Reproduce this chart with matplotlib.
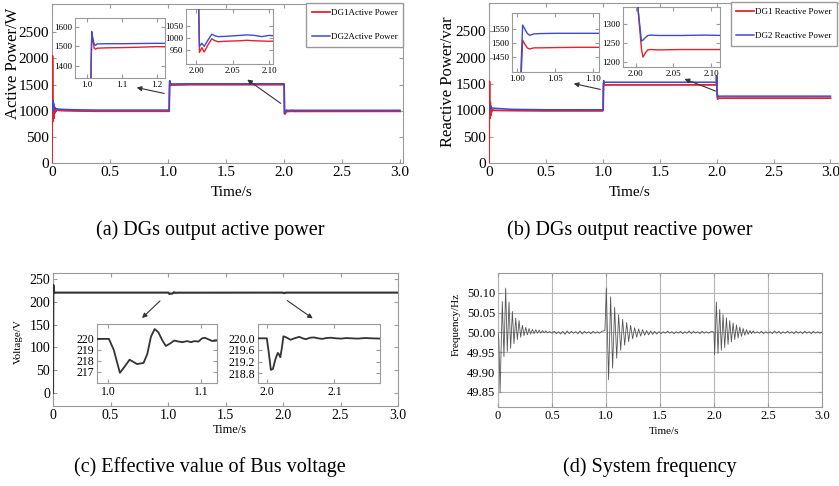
import numpy as np
import matplotlib.pyplot as plt
from matplotlib.patches import FancyArrowPatch

plt.rcParams['font.family'] = 'Liberation Serif'

# (a) Wirkleistung der DGs
t_a = [0.0, 0.004, 0.006, 0.009, 0.012, 0.015, 0.018, 0.021, 0.025, 0.030, 0.040, 0.060, 0.100, 0.200, 0.400,
       0.999, 1.010, 1.013, 1.015, 1.018, 1.022, 1.026, 1.030, 1.060, 1.100, 1.150, 1.200, 1.230, 1.999, 2.001,
       2.0045, 2.0078, 2.011, 2.016, 2.0214, 2.026, 2.030, 2.040, 2.050, 2.060, 2.070, 2.080, 2.090, 2.100, 2.110, 3.0]
p_dg1 = [0, 2050, 1400, 800, 1150, 850, 1100, 940, 1060, 980, 1015, 1005, 1000, 995, 990,
         990, 990, 1400, 1565, 1530, 1490, 1485, 1490, 1492, 1493, 1495, 1498, 1497, 1497, 1497,
         940, 960, 942, 970, 996, 988, 984, 986, 987, 988, 990, 988, 987, 986, 987, 988]
p_dg2 = [950, 1000, 1200, 1050, 1130, 1040, 1080, 1030, 1050, 1035, 1040, 1030, 1025, 1018, 1012,
         1012, 1012, 1420, 1575, 1540, 1510, 1505, 1512, 1513, 1513, 1514, 1515, 1515, 1515, 1515,
         965, 978, 965, 990, 1015, 1008, 1005, 1006, 1008, 1010, 1012, 1010, 1005, 1010, 1008, 1008]

# (b) Blindleistung der DGs
t_b = [0.0, 0.004, 0.006, 0.008, 0.011, 0.014, 0.017, 0.020, 0.030, 0.050, 0.200, 0.500, 0.999, 1.0026, 1.005,
       1.007, 1.010, 1.013, 1.016, 1.019, 1.022, 1.030, 1.050, 1.080, 1.110, 1.999, 2.000, 2.003, 2.0075, 2.0096,
       2.013, 2.016, 2.020, 2.030, 2.060, 2.090, 2.120, 3.0]
q_dg1 = [0, 1550, 1000, 850, 1150, 900, 1080, 960, 1010, 1000, 995, 990, 990, 1000, 1380,
         1510, 1495, 1482, 1478, 1480, 1482, 1482, 1483, 1484, 1484, 1484, 1650, 1340, 1235, 1213,
         1225, 1232, 1233, 1232, 1233, 1233, 1233, 1233]
q_dg2 = [950, 1000, 1100, 1060, 1080, 1050, 1060, 1050, 1045, 1040, 1020, 1012, 1012, 1020, 1420,
         1565, 1550, 1535, 1528, 1530, 1533, 1534, 1535, 1535, 1535, 1535, 1650, 1340, 1255, 1258,
         1265, 1270, 1271, 1270, 1270, 1271, 1270, 1270]

# (c) Effektivwert der Busspannung
v_t = [0.0, 0.003, 0.007, 0.012, 0.020, 0.988, 1.0008, 1.006, 1.0126, 1.018, 1.023, 1.027, 1.031, 1.038, 1.042,
       1.046, 1.050, 1.054, 1.058, 1.062, 1.067, 1.071, 1.076, 1.080, 1.085, 1.089, 1.093, 1.097, 1.101, 1.104,
       1.108, 1.112, 1.117, 1.987, 2.000, 2.003, 2.006, 2.009, 2.013, 2.0163, 2.018, 2.020, 2.0225, 2.0246, 2.029,
       2.035, 2.041, 2.048, 2.053, 2.058, 2.064, 2.070, 2.076, 2.082, 2.088, 2.095, 2.102, 2.110, 2.118, 2.125,
       2.135, 2.145, 2.155, 2.168, 3.0]
v_bus = [0, 237, 224, 219, 220, 220.0, 220.0, 219.0, 216.9, 217.5, 218.1, 217.9, 217.7, 217.8, 218.6,
         220.2, 220.9, 220.6, 219.9, 219.35, 219.6, 219.85, 219.75, 219.7, 219.8, 219.7, 219.8, 219.75, 220.05, 220.1,
         219.95, 219.8, 219.85, 220.0, 220.0, 219.5, 218.92, 218.95, 219.3, 219.5, 219.45, 219.35, 219.7, 220.07, 220.03,
         219.95, 220.0, 220.05, 220.0, 219.97, 220.02, 220.03, 220.0, 219.98, 220.01, 220.02, 220.0, 219.99, 220.01, 220.0,
         219.99, 220.01, 220.0, 219.99, 220.0]

f_t = [0.000, 0.008, 0.019, 0.040, 0.055, 0.071, 0.086, 0.102, 0.117, 0.133, 0.148, 0.164, 0.179, 0.195, 0.210,
       0.226, 0.241, 0.257, 0.272, 0.288, 0.303, 0.319, 0.334, 0.350, 0.365, 0.381, 0.396, 0.412, 0.427, 0.443, 0.458,
       0.48, 0.50, 0.52, 0.54, 0.56, 0.58, 0.60, 0.62, 0.64, 0.66, 0.68, 0.70, 0.72, 0.74, 0.76, 0.78, 0.80,
       0.82, 0.84, 0.86, 0.88, 0.90, 0.92, 0.94, 0.96, 0.98,
       0.990, 1.003, 1.024, 1.043, 1.061, 1.080, 1.099, 1.117, 1.136, 1.154, 1.173, 1.191, 1.210, 1.228, 1.247,
       1.265, 1.284, 1.302, 1.321, 1.339, 1.358, 1.376, 1.395, 1.413, 1.432, 1.450, 1.470,
       1.49, 1.51, 1.53, 1.55, 1.57, 1.59, 1.61, 1.63, 1.65, 1.67, 1.69, 1.71, 1.73, 1.75, 1.77, 1.79, 1.81,
       1.83, 1.85, 1.87, 1.89, 1.91, 1.93, 1.95, 1.97,
       1.990, 2.000, 2.006, 2.022, 2.037, 2.053, 2.068, 2.084, 2.099, 2.115, 2.130, 2.146, 2.161, 2.177, 2.192,
       2.208, 2.223, 2.239, 2.254, 2.270, 2.285, 2.301, 2.316, 2.332, 2.347, 2.363, 2.378,
       2.40, 2.42, 2.44, 2.46, 2.48, 2.50, 2.52, 2.54, 2.56, 2.58, 2.60, 2.62, 2.64, 2.66, 2.68, 2.70, 2.72,
       2.74, 2.76, 2.78, 2.80, 2.82, 2.84, 2.86, 2.88, 2.90, 2.92, 2.94, 2.96, 2.98, 3.00]
f_hz = [50.000, 49.980, 49.850, 50.078, 49.939, 50.112, 49.952, 50.077, 49.960, 50.053, 49.972, 50.036, 49.982, 50.030, 49.988,
        50.018, 49.992, 50.013, 49.994, 50.010, 49.996, 50.008, 49.997, 50.007, 49.998, 50.006, 49.998, 50.005, 49.999, 50.004, 49.999,
        50.002, 49.998, 50.003, 49.997, 50.002, 49.996, 50.003, 49.995, 50.004, 49.997, 50.003, 49.998, 50.002, 49.997, 50.004, 49.996, 50.003,
        49.998, 50.002, 49.997, 50.003, 49.998, 50.002, 49.998, 50.003, 50.004,
        50.005, 50.112, 49.881, 50.090, 49.910, 50.063, 49.935, 50.045, 49.955, 50.033, 49.968, 50.025, 49.977, 50.018, 49.984,
        50.012, 49.988, 50.009, 49.991, 50.007, 49.993, 50.005, 49.994, 50.004, 49.995, 50.003, 49.996,
        50.002, 49.997, 50.002, 49.998, 50.003, 49.998, 50.002, 49.997, 50.002, 49.998, 50.003, 49.997, 50.002, 49.998, 50.004, 49.997, 50.003,
        49.998, 50.002, 49.997, 50.003, 49.998, 50.002, 49.998, 50.002,
        50.002, 50.000, 49.944, 50.077, 49.947, 50.058, 49.955, 50.045, 49.962, 50.037, 49.970, 50.030, 49.976, 50.024, 49.982,
        50.019, 49.986, 50.014, 49.990, 50.010, 49.993, 50.007, 49.995, 50.005, 49.997, 50.004, 49.998,
        50.002, 49.998, 50.003, 49.997, 50.002, 49.998, 50.002, 49.997, 50.004, 49.998, 50.003, 49.997, 50.002, 49.998, 50.003, 49.998, 50.002,
        49.997, 50.003, 49.998, 50.002, 49.997, 50.003, 49.998, 50.002, 49.997, 50.003, 49.998, 50.002, 49.998, 50.001]

W, H = 839, 486
RED, BLUE = '#e3232c', '#3b4bd2'
SPINE = '#9a9a9a'

fig = plt.figure(figsize=(W / 100, H / 100), dpi=100)


def box(l, t, r, b):
    # Pixelkoordinaten (oben links) -> Figure-Anteile
    return [l / W, 1 - b / H, (r - l) / W, (b - t) / H]


def style(ax, size):
    for s in ax.spines.values():
        s.set_color(SPINE)
        s.set_linewidth(0.8)
        s.set_zorder(1)
    ax.tick_params(direction='in', top=True, right=True, length=3, color=SPINE,
                   labelsize=size, pad=2)


def arrow(p0, p1):
    fig.add_artist(FancyArrowPatch((p0[0] / W, 1 - p0[1] / H), (p1[0] / W, 1 - p1[1] / H),
                                   transform=fig.transFigure, arrowstyle='-|>',
                                   mutation_scale=7, color='#333333', lw=0.8))


def legend(ax, right, top):
    ax.legend(loc='upper right', bbox_to_anchor=(right / W, 1 - top / H),
              bbox_transform=fig.transFigure, fontsize=6.5, frameon=True, fancybox=False,
              edgecolor=SPINE, framealpha=1, handlelength=2.0, labelspacing=1.8,
              borderpad=0.6, handletextpad=0.1, borderaxespad=0)


# ---- (a)
ax = fig.add_axes(box(52, 4, 403, 163))
ax.plot(t_a, p_dg1, color=RED, lw=1.3, label='DG1Active Power', zorder=3)
ax.plot(t_a, p_dg2, color=BLUE, lw=1.1, label='DG2Active Power', zorder=3)
ax.set_xlim(0, 3.026)
ax.set_ylim(0, 3040)
ax.set_xticks([0, 0.5, 1.0, 1.5, 2.0, 2.5, 3.0], ['0', '0.5', '1.0', '1.5', '2.0', '2.5', '3.0'])
ax.set_yticks([0, 500, 1000, 1500, 2000, 2500])
style(ax, 11)
legend(ax, 403, 3)
fig.text(13 / W, 1 - 63 / H, 'Active Power/W', rotation=90, ha='center', va='center', fontsize=12)
fig.text(232 / W, 1 - 192 / H, 'Time/s', ha='center', va='center', fontsize=11)

ins = fig.add_axes(box(75, 18, 165, 78))
ins.plot(t_a, p_dg1, color=RED, lw=1.0)
ins.plot(t_a, p_dg2, color=BLUE, lw=1.0)
ins.set_xlim(0.967, 1.224)
ins.set_ylim(1337, 1645)
ins.set_xticks([1.0, 1.1, 1.2], ['1.0', '1.1', '1.2'])
ins.set_yticks([1400, 1500, 1600])
style(ins, 6.5)

ins = fig.add_axes(box(186, 9, 273, 64))
ins.plot(t_a, p_dg1, color=RED, lw=1.0)
ins.plot(t_a, p_dg2, color=BLUE, lw=1.0)
ins.set_xlim(1.986, 2.1055)
ins.set_ylim(893, 1118)
ins.set_xticks([2.0, 2.05, 2.1], ['2.00', '2.05', '2.10'])
ins.set_yticks([950, 1000, 1050])
style(ins, 6.5)

arrow((167, 94), (134, 87))
arrow((283, 105), (245, 78))
fig.text(210 / W, 1 - 230 / H, '(a) DGs output active power', ha='center', va='center', fontsize=14.5)

# ---- (b)
ax = fig.add_axes(box(489, 3, 843, 163))
ax.plot(t_b, q_dg1, color=RED, lw=1.3, label='DG1 Reactive Power', zorder=3)
ax.plot(t_b, q_dg2, color=BLUE, lw=1.1, label='DG2 Reactive Power', zorder=3)
ax.set_xlim(0, 3.11)
ax.set_ylim(0, 3040)
ax.set_xticks([0, 0.5, 1.0, 1.5, 2.0, 2.5, 3.0], ['0', '0.5', '1.0', '1.5', '2.0', '2.5', '3.0'])
ax.set_yticks([0, 500, 1000, 1500, 2000, 2500])
style(ax, 11)
legend(ax, 837, 2)
fig.text(448 / W, 1 - 82 / H, 'Reactive Power/var', rotation=90, ha='center', va='center', fontsize=12)
fig.text(630 / W, 1 - 192 / H, 'Time/s', ha='center', va='center', fontsize=11)

ins = fig.add_axes(box(512, 13, 599, 72))
ins.plot(t_b, q_dg1, color=RED, lw=1.0)
ins.plot(t_b, q_dg2, color=BLUE, lw=1.0)
ins.set_xlim(0.993, 1.1075)
ins.set_ylim(1394, 1609)
ins.set_xticks([1.0, 1.05, 1.1], ['1.00', '1.05', '1.10'])
ins.set_yticks([1450, 1500, 1550])
style(ins, 6.5)

ins = fig.add_axes(box(623, 7, 720, 67))
ins.plot(t_b, q_dg1, color=RED, lw=1.0)
ins.plot(t_b, q_dg2, color=BLUE, lw=1.0)
ins.set_xlim(1.983, 2.112)
ins.set_ylim(1187, 1345)
ins.set_xticks([2.0, 2.05, 2.1], ['2.00', '2.05', '2.10'])
ins.set_yticks([1200, 1250, 1300])
style(ins, 6.5)

arrow((603, 90), (571, 83))
arrow((718, 92), (682, 78))
fig.text(630 / W, 1 - 230 / H, '(b) DGs output reactive power', ha='center', va='center', fontsize=14.5)

# ---- (c)
ax = fig.add_axes(box(53, 273, 398, 406))
ax.plot(v_t, v_bus, color='#333333', lw=1.5, zorder=3)
ax.set_xlim(0, 3.0)
ax.set_ylim(-28.5, 263)
ax.set_xticks([0, 0.5, 1.0, 1.5, 2.0, 2.5, 3.0], ['0', '0.5', '1.0', '1.5', '2.0', '2.5', '3.0'])
ax.set_yticks([0, 50, 100, 150, 200, 250])
style(ax, 10)
fig.text(18 / W, 1 - 342 / H, 'Voltage/V', rotation=90, ha='center', va='center', fontsize=8)
fig.text(230 / W, 1 - 430 / H, 'Time/s', ha='center', va='center', fontsize=9)

ins = fig.add_axes(box(97, 324, 217, 383))
ins.plot(v_t, v_bus, color='#333333', lw=1.3)
ins.set_xlim(0.988, 1.117)
ins.set_ylim(215.97, 221.36)
ins.set_xticks([1.0, 1.1], ['1.0', '1.1'])
ins.set_yticks([217, 218, 219, 220])
style(ins, 8.5)

ins = fig.add_axes(box(258, 324, 380, 383))
ins.plot(v_t, v_bus, color='#333333', lw=1.3)
ins.set_xlim(1.987, 2.1675)
ins.set_ylim(218.47, 220.49)
ins.set_xticks([2.0, 2.1], ['2.0', '2.1'])
ins.set_yticks([218.8, 219.2, 219.6, 220.0])
ins.set_yticklabels(['218.8', '219.2', '219.6', '220.0'])
style(ins, 8.5)

arrow((162, 299), (140, 320))
arrow((285, 299), (315, 320))
fig.text(210 / W, 1 - 467 / H, '(c) Effective value of Bus voltage', ha='center', va='center', fontsize=14.5)

# ---- (d)
ax = fig.add_axes(box(498, 273, 822, 407))
ax.plot(f_t, f_hz, color='#555555', lw=0.6)
ax.set_xlim(0, 3.0)
ax.set_ylim(49.812, 50.15)
ax.set_xticks([0, 0.5, 1.0, 1.5, 2.0, 2.5, 3.0], ['0', '0.5', '1.0', '1.5', '2.0', '2.5', '3.0'])
ax.set_yticks([49.85, 49.90, 49.95, 50.00, 50.05, 50.10])
ax.set_yticklabels(['49.85', '49.90', '49.95', '50.00', '50.05', '50.10'])
ax.grid(True, color='#b5b5b5', lw=0.8)
style(ax, 9)
fig.text(456 / W, 1 - 324 / H, 'Frequency/Hz', rotation=90, ha='center', va='center', fontsize=8)
fig.text(664 / W, 1 - 431 / H, 'Time/s', ha='center', va='center', fontsize=8)
fig.text(650 / W, 1 - 467 / H, '(d) System frequency', ha='center', va='center', fontsize=14.5)

plt.savefig('out.png', dpi=100)
